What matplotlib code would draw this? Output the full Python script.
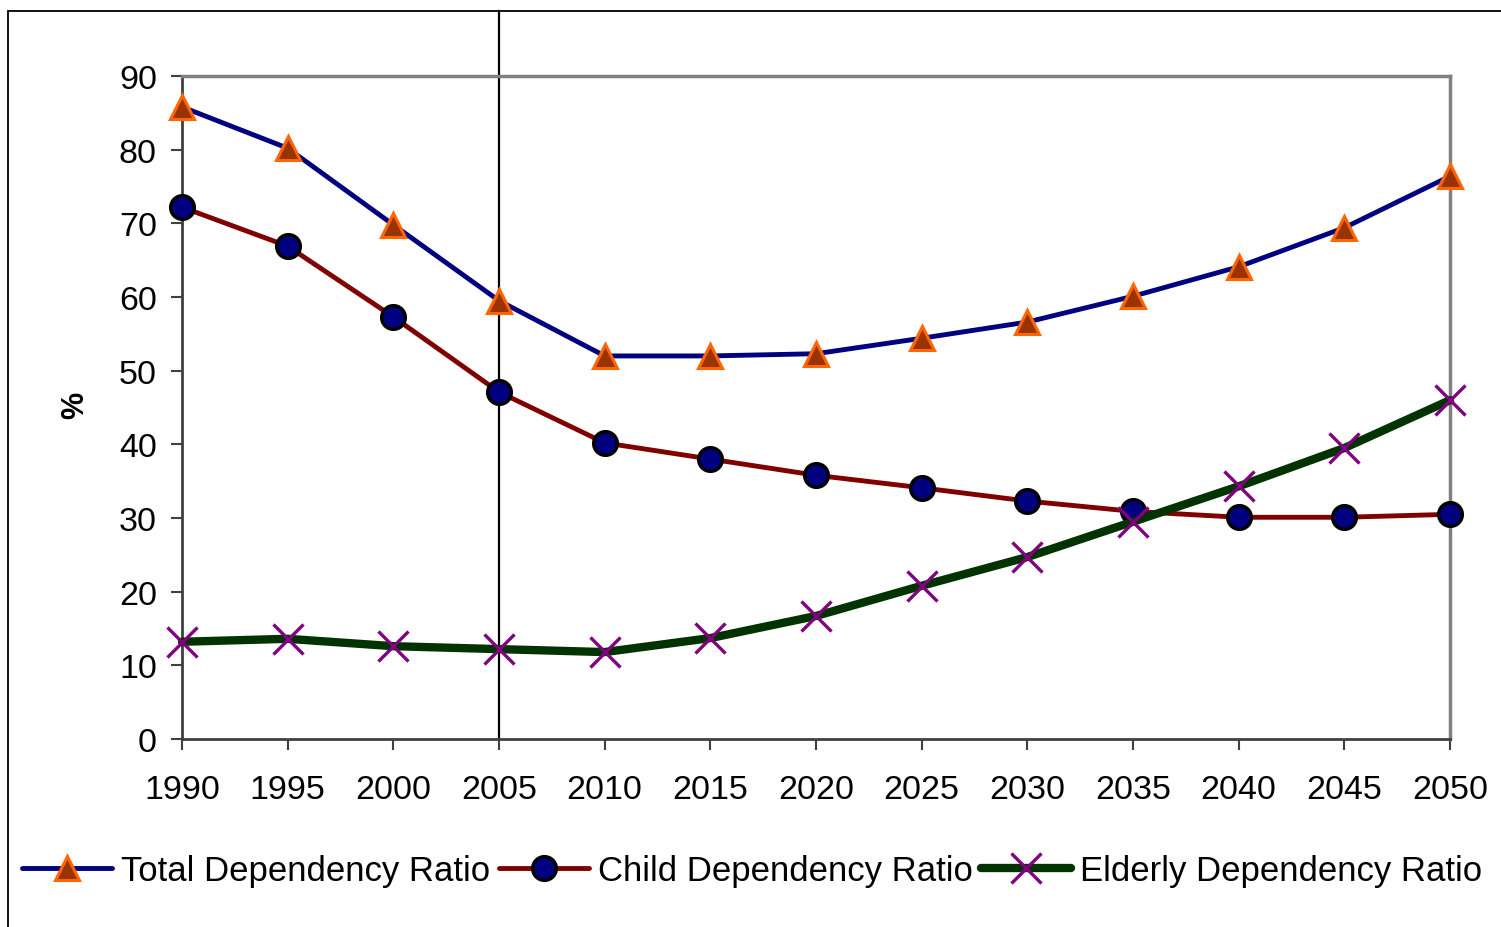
import matplotlib.pyplot as plt
from matplotlib.patches import Rectangle

plt.rcParams['font.family'] = ['Liberation Sans', 'DejaVu Sans']

# Данные
years = [1990, 1995, 2000, 2005, 2010, 2015, 2020, 2025, 2030, 2035, 2040, 2045, 2050]
total = [85.8, 80.2, 69.8, 59.5, 52.0, 52.0, 52.3, 54.4, 56.6, 60.1, 64.1, 69.4, 76.4]
child = [72.2, 66.9, 57.3, 47.1, 40.2, 38.0, 35.8, 34.1, 32.3, 30.9, 30.1, 30.1, 30.5]
elderly = [13.2, 13.6, 12.6, 12.2, 11.8, 13.7, 16.7, 20.8, 24.7, 29.5, 34.3, 39.5, 46.0]
yticks = list(range(0, 91, 10))

fig = plt.figure(figsize=(15.01, 9.28), dpi=100)
W, H = 1501, 928
ax = fig.add_axes([182 / W, 1 - 740 / H, (1450 - 182) / W, (740 - 77) / H])

# Рамка вокруг рисунка
fig.patches.append(Rectangle((8 / W, -0.1), 1.2, 1 - 12 / H + 0.1,
                             transform=fig.transFigure, fill=False,
                             edgecolor='black', linewidth=1.3))

ax.plot(years, total, color='#000080', linewidth=3.5, marker='^', markersize=17,
        markerfacecolor='#993300', markeredgecolor='#FF6600', markeredgewidth=2.2,
        solid_capstyle='round', label='Total Dependency Ratio', clip_on=False, zorder=4)
ax.plot(years, child, color='#800000', linewidth=3.5, marker='o', markersize=17,
        markerfacecolor='#000080', markeredgecolor='black', markeredgewidth=2.5,
        solid_capstyle='round', label='Child Dependency Ratio', clip_on=False, zorder=3)
ax.plot(years, elderly, color='#003300', linewidth=6, marker='x', markersize=21,
        markeredgecolor='#800080', markeredgewidth=2.4,
        solid_capstyle='round', label='Elderly Dependency Ratio', clip_on=False, zorder=5)

# Вертикальная линия 2005
ax.axvline(2005, ymin=0, ymax=(740 - 12) / (740 - 77), color='black',
           linewidth=1.6, clip_on=False, zorder=2)

ax.set_xlim(1990, 2050)
ax.set_ylim(0, 90)
ax.set_xticks(years)
ax.set_yticks(yticks)
ax.tick_params(axis='both', labelsize=24.5, length=8, width=1.5, color='#404040')
ax.tick_params(axis='x', pad=17)
ax.tick_params(axis='y', pad=10)

for side in ['left', 'bottom']:
    ax.spines[side].set_color('#404040')
    ax.spines[side].set_linewidth(2)
for side in ['top', 'right']:
    ax.spines[side].set_color('#808080')
    ax.spines[side].set_linewidth(2.5)

fig.text(75 / W, 1 - 405 / H, '%', rotation=90, fontsize=22, fontweight='bold',
         ha='center', va='center')

fig.legend(loc='center', bbox_to_anchor=(752 / W, 1 - 872 / H), ncol=3,
           frameon=False, fontsize=25, handlelength=2.6, handletextpad=0.25,
           columnspacing=0.25)

plt.savefig('out.png', dpi=100)
